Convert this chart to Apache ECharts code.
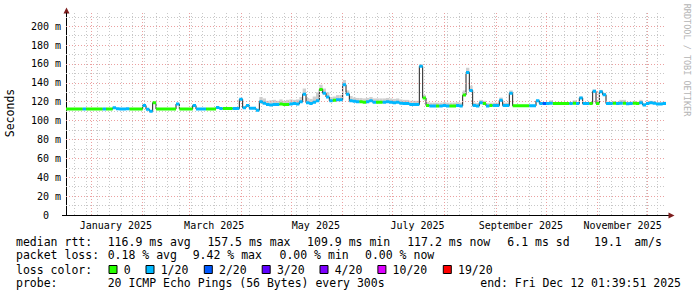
<!DOCTYPE html>
<html><head><meta charset="utf-8">
<script src="https://cdn.jsdelivr.net/npm/echarts@6/dist/echarts.min.js"></script>
<style>html,body{margin:0;padding:0;background:#fff}#c{width:697px;height:297px}</style>
</head><body><div id="c"></div>
<script>
// ---------------- data ----------------
const END_TIME = new Date(2025, 11, 12, 1, 39, 51).getTime();
const SPAN_DAYS = 360;
const STEP_DAYS = 2;

// median rtt (ms), one value per 2-day step
const MEDIAN = [
 112.2,112.2,112.2,112.2,112.2,112.2,112.2,112.2,112.2,112.2,
 112.2,112.2,112.2,112.2,113.5,112.5,112.2,112.2,112.5,112.2,
 112.2,112.2,112.2,116.0,112.0,110.0,119.0,112.2,112.2,112.2,
 112.2,112.2,112.2,117.5,112.2,112.2,112.2,112.2,116.0,112.2,
 112.2,112.2,112.2,112.2,112.2,114.0,112.8,112.8,112.8,112.8,
 112.8,112.8,122.5,113.5,116.0,113.0,113.0,111.0,120.0,118.5,
 117.0,116.5,117.0,117.0,117.5,117.0,117.0,117.5,118.0,117.5,
 120.0,128.0,119.0,118.0,119.5,121.0,133.0,129.0,125.0,121.0,
 121.5,122.0,122.0,138.0,128.0,121.0,120.5,120.0,120.0,119.5,
 120.0,121.0,119.5,119.5,119.5,119.5,120.0,119.5,119.0,119.5,
 118.5,118.0,118.0,117.0,117.0,117.0,157.5,124.0,116.0,115.5,
 115.5,115.5,115.5,116.0,115.5,115.5,115.5,116.0,115.5,127.0,
 151.0,132.0,116.0,115.5,119.0,118.0,115.5,116.0,116.0,116.0,
 121.5,116.0,116.0,129.0,115.7,115.7,115.7,115.7,115.7,115.7,
 115.7,121.0,118.2,118.0,118.0,118.5,118.2,118.2,118.0,118.0,
 118.0,118.0,118.5,118.0,124.0,118.0,118.0,118.0,131.0,118.0,
 130.5,127.5,118.0,118.0,118.5,118.0,118.5,118.5,117.8,118.0,
 118.5,118.0,119.0,116.5,118.0,119.0,118.5,117.5,117.5,118.0
];
// loss class per step: 0 = 0 loss, 1 = 1/20, 2 = 2/20 ...
const LOSS = [
 0,0,0,0,0,1,0,0,0,0, 0,1,0,0,1,1,1,1,1,0, 0,0,0,1,1,1,0,0,0,0,
 0,0,0,1,0,0,0,0,1,1, 1,1,0,0,0,1,1,0,0,0, 1,1,1,1,1,1,1,1,1,1,
 1,1,1,1,0,0,0,1,1,1, 1,1,1,1,1,1,0,1,1,1, 0,1,1,1,1,1,1,1,0,0,
 1,1,1,0,0,1,1,1,1,1, 1,1,1,1,1,1,1,0,0,1, 1,0,1,1,1,0,0,1,1,0,
 1,1,1,1,1,0,1,0,1,1, 1,1,1,1,0,0,0,0,0,1, 1,1,1,2,1,1,0,0,0,0,
 0,1,0,1,1,1,1,0,1,0, 1,1,1,1,0,1,1,0,1,1, 0,0,1,1,1,1,1,1,1,1
];
// smoke spread above the median (ms)
const SMOKE = [
 0,0,0,0,0,0,0,0,0,0, 0,0,0,0,0,0,0,0,0,0, 0,0,0,0,0,0,0,0,0,0,
 0,0,0,0,0,0,0,0,0,0, 0,0,0,0,0,0,0,0,0,0, 0,0,0,0,0,0,0,0,5,5,
 4,5,5,4,5,4,5,5,4,5, 5,6,5,5,6,9,5,5,5,4, 4,5,5,5,4,5,4,4,4,4,
 4,4,4,4,4,4,4,4,4,4, 4,4,4,4,4,4,2,3,3.5,3.5, 3.5,3.5,3.5,3.5,3.5,3.5,3.5,3.5,3.5,5,
 5,5,3,3,3,3,3,3,3,3, 3,3,3,3,1,1,1,1,1,1, 1,1,1.5,1.5,1.5,3,1.5,1.5,1.5,1.5,
 1.5,1.5,3,1.5,1.5,1.5,1.5,1.5,2,2, 2,2,2,2,2,2,3.5,3.5,2,2, 2,2,3,2,2,2,2,2,2,2
];

const LOSS_LABELS = ['0', '1/20', '2/20', '3/20', '4/20', '10/20', '19/20'];
const LOSS_COLORS = ['#26ff00', '#00b8ff', '#0059ff', '#5e00ff', '#7e00ff', '#dd00ff', '#ff0000'];

const MONTH_LABELS = ['January 2025', 'March 2025', 'May 2025', 'July 2025', 'September 2025', 'November 2025'];
const MONTH_LABEL_MONTHS = [0, 2, 4, 6, 8, 10];
const Y_MAX = 214;
const Y_MAJOR = [20, 40, 60, 80, 100, 120, 140, 160, 180, 200];
const Y_MINOR = [10, 30, 50, 70, 90, 110, 130, 150, 170, 190, 210];

const RTT_LABEL = 'median rtt:';
const RTT_STATS = ['116.9 ms avg', '157.5 ms max', '109.9 ms min', '117.2 ms now', '6.1 ms sd', '19.1', 'am/s'];
const LOSS_LABEL = 'packet loss:';
const LOSS_STATS = ['0.18 % avg', '9.42 % max', '0.00 % min', '0.00 % now'];
const COLOR_LABEL = 'loss color:';
const PROBE_LABEL = 'probe:';
const PROBE_TEXT = '20 ICMP Echo Pings (56 Bytes) every 300s';
const END_TEXT = 'end: Fri Dec 12 01:39:51 2025';
const WATERMARK = 'RRDTOOL / TOBI OETIKER';
const Y_NAME = 'Seconds';

// ---------------- build ----------------
const DAY = 86400000;
const START_TIME = END_TIME - SPAN_DAYS * DAY;
const STEP = STEP_DAYS * DAY;

const blackLine = [], smokeData = [];
MEDIAN.forEach((m, i) => {
  const t0 = START_TIME + i * STEP, t1 = t0 + STEP;
  blackLine.push([t0, m], [t1, m]);
  if (SMOKE[i] > 0) smokeData.push([t0, t1, m, m + SMOKE[i]]);
});
const lossSeries = LOSS_COLORS.map((col, c) => {
  const d = [];
  MEDIAN.forEach((m, i) => {
    if (LOSS[i] !== c) return;
    const t0 = START_TIME + i * STEP, t1 = t0 + STEP;
    d.push([t0, m], [t1, m], [t1, '-']);
  });
  return {
    type: 'line', data: d, symbol: 'none', connectNulls: false, silent: true,
    lineStyle: { color: col, width: 3, cap: 'butt' }, z: 5, animation: false
  };
});

// grid lines
const monthLines = [];
for (let m = 0; m < 12; m++) monthLines.push(new Date(2025, m, 1).getTime());
const weekLines = [];
{
  const d = new Date(START_TIME);
  d.setHours(0, 0, 0, 0);
  while (d.getDay() !== 0) d.setDate(d.getDate() + 1);
  while (d.getTime() < END_TIME) {
    if (d.getDate() !== 1) weekLines.push(d.getTime());
    d.setDate(d.getDate() + 7);
  }
}
const monthLabelTimes = MONTH_LABEL_MONTHS.map(m => new Date(2025, m, 16).getTime());

const minorStyle = { color: '#c8c8c8', width: 1, type: [1, 2] };
const majorStyle = { color: '#eba0a0', width: 1, type: [1, 2] };
const ml = [];
weekLines.forEach(t => ml.push({ xAxis: t, lineStyle: minorStyle }));
Y_MINOR.forEach(v => ml.push({ yAxis: v, lineStyle: minorStyle }));
monthLines.forEach(t => ml.push({ xAxis: t, lineStyle: majorStyle }));
Y_MAJOR.forEach(v => ml.push({ yAxis: v, lineStyle: majorStyle }));

const FONT = 'DejaVu Sans Mono, monospace';
const LEG_FS = 11.5;
const graphics = [];
function txt(x, y, s, opts) {
  graphics.push(Object.assign({
    type: 'text', x: x, y: y, silent: true,
    style: { text: s, font: LEG_FS + 'px ' + FONT, fill: '#000', verticalAlign: 'middle', align: 'left' }
  }, opts || {}));
}
const L1 = 241.7, L2 = 255.2, L3 = 269.5, L4 = 283.4;
const COL_X = 107.7;
txt(16, L1, RTT_LABEL);
[107.7, 207.4, 307.1, 407.2, 507.3, 594.1, 634.2].forEach((x, i) => txt(x, L1, RTT_STATS[i]));
txt(16, L2, LOSS_LABEL);
[107.7, 192.7, 279.5, 365.0].forEach((x, i) => txt(x, L2, LOSS_STATS[i]));
txt(16, L3, COLOR_LABEL);
[108.5, 145.5, 203.8, 261.7, 319.5, 377.4, 442.8].forEach((x, i) => {
  graphics.push({ type: 'rect', silent: true, shape: { x: x + 0.5, y: 265.5, width: 8, height: 8 },
    style: { fill: LOSS_COLORS[i], stroke: '#000', lineWidth: 1 } });
  txt(x + 15.2, L3, LOSS_LABELS[i]);
});
txt(16, L4, PROBE_LABEL);
txt(COL_X, L4, PROBE_TEXT);
graphics.push({ type: 'text', x: 681, y: L4, silent: true,
  style: { text: END_TEXT, font: LEG_FS + 'px ' + FONT, fill: '#000', verticalAlign: 'middle', align: 'right' } });
// axis name
graphics.push({ type: 'text', x: 10, y: 113, rotation: Math.PI / 2, silent: true,
  style: { text: Y_NAME, font: '11.5px ' + FONT, fill: '#000', align: 'center', verticalAlign: 'middle' } });
// watermark
graphics.push({ type: 'text', x: 687, y: 60, rotation: -Math.PI / 2, silent: true,
  style: { text: WATERMARK, font: '8.5px ' + FONT, fill: '#b4b4b4', align: 'center', verticalAlign: 'middle' } });
// arrows
graphics.push({ type: 'polygon', silent: true, shape: { points: [[63.5, 13.5], [66.5, 7.5], [69.5, 13.5]] },
  style: { fill: '#7d1d1d' } });
graphics.push({ type: 'line', silent: true, shape: { x1: 666, y1: 215.5, x2: 669, y2: 215.5 },
  style: { stroke: '#000', lineWidth: 1 } });
graphics.push({ type: 'polygon', silent: true, shape: { points: [[668.5, 212.5], [674.5, 215.5], [668.5, 218.5]] },
  style: { fill: '#7d1d1d' } });
graphics.push({ type: 'line', silent: true, shape: { x1: 62, y1: 215.5, x2: 66, y2: 215.5 },
  style: { stroke: '#000', lineWidth: 1 } });

const chart = echarts.init(document.getElementById('c'), null, { renderer: 'svg', width: 697, height: 297 });
chart.setOption({
  animation: false,
  backgroundColor: '#ffffff',
  grid: { left: 66, right: 31, top: 13, bottom: 82, containLabel: false },
  xAxis: {
    type: 'value', min: START_TIME, max: END_TIME, scale: true,
    axisLine: { show: true, onZero: false, lineStyle: { color: '#000', width: 1 } },
    axisTick: { show: false },
    splitLine: { show: false },
    axisLabel: {
      customValues: monthLabelTimes,
      formatter: v => { const k = monthLabelTimes.indexOf(v); return k >= 0 ? MONTH_LABELS[k] : ''; },
      fontFamily: FONT, fontSize: 10, color: '#000', margin: 5, hideOverlap: false
    }
  },
  yAxis: {
    type: 'value', min: 0, max: Y_MAX, interval: 20,
    axisLine: { show: true, lineStyle: { color: '#000', width: 1 } },
    axisTick: { show: false },
    splitLine: { show: false },
    axisLabel: {
      formatter: v => v === 0 ? '0\u00a0\u00a0' : (v % 20 === 0 && v <= 200 ? v + ' m' : ''),
      fontFamily: FONT, fontSize: 10, color: '#000', margin: 5, showMaxLabel: false
    }
  },
  graphic: graphics,
  series: [
    { type: 'line', data: [], silent: true, z: 1,
      markLine: { silent: true, symbol: ['none', 'none'], label: { show: false }, animation: false, data: ml } },
    { type: 'custom', data: smokeData, silent: true, z: 2,
      encode: { x: [0, 1], y: [2, 3] },
      renderItem: (params, api) => {
        const p0 = api.coord([api.value(0), api.value(3)]);
        const p1 = api.coord([api.value(1), api.value(2)]);
        return { type: 'rect', shape: { x: p0[0], y: p0[1], width: p1[0] - p0[0], height: p1[1] - p0[1] },
          style: { fill: '#cfcfcf' } };
      } },
    { type: 'line', data: blackLine, symbol: 'none', silent: true, z: 4,
      lineStyle: { color: '#202020', width: 1 } }
  ].concat(lossSeries)
});
</script>
</body></html>
